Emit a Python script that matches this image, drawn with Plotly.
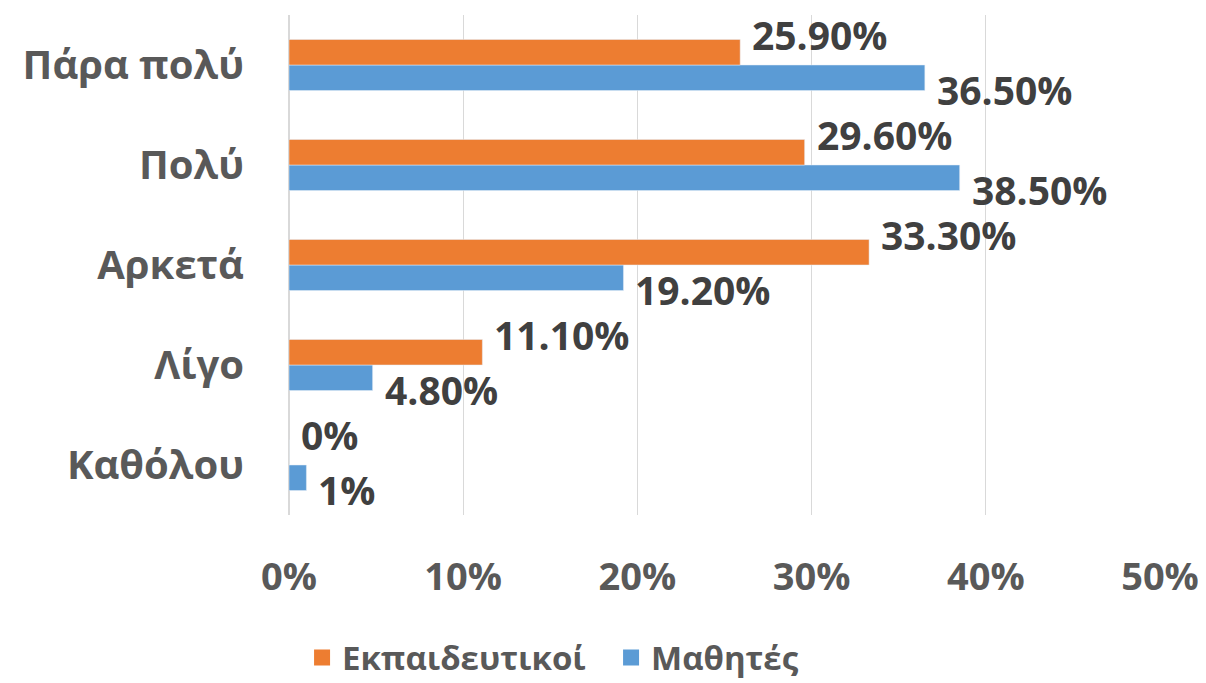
import plotly.graph_objects as go

categories = ["Πάρα πολύ", "Πολύ", "Αρκετά", "Λίγο", "Καθόλου"]
teachers = [25.9, 29.6, 33.3, 11.1, 0]
students = [36.5, 38.5, 19.2, 4.8, 1]

def fmt(v):
    return f"{v:.0f}%" if float(v).is_integer() else f"{v:.2f}%"

FONT = "Open Sans"
ORANGE = "#ED7D31"
BLUE = "#5B9BD5"

fig = go.Figure()
# blue first so it sits below orange inside each group
fig.add_trace(go.Bar(y=categories, x=students, orientation="h", name="Μαθητές",
                     marker=dict(color=BLUE), showlegend=False))
fig.add_trace(go.Bar(y=categories, x=teachers, orientation="h", name="Εκπαιδευτικοί",
                     marker=dict(color=ORANGE), showlegend=False))

# legend entries with bigger square swatches
fig.add_trace(go.Scatter(x=[None], y=[None], mode="markers", name="Εκπαιδευτικοί",
                         marker=dict(symbol="square", size=20, color=ORANGE)))
fig.add_trace(go.Scatter(x=[None], y=[None], mode="markers", name="Μαθητές",
                         marker=dict(symbol="square", size=20, color=BLUE)))

for cat, t, s in zip(categories, teachers, students):
    fig.add_annotation(x=t, y=cat, text=fmt(t), showarrow=False, xanchor="left",
                       xshift=10, yshift=31,
                       font=dict(family=FONT, size=39, color="#404040", weight="bold"))
    fig.add_annotation(x=s, y=cat, text=fmt(s), showarrow=False, xanchor="left",
                       xshift=10, yshift=-24,
                       font=dict(family=FONT, size=39, color="#404040", weight="bold"))

# page body has an 8px margin, so the figure is 8px smaller than the window
fig.update_layout(
    width=1198, height=675,
    margin=dict(l=281, r=46, t=7, b=168, autoexpand=False),
    barmode="group", bargap=0.49, bargroupgap=0,
    plot_bgcolor="white", paper_bgcolor="white",
    font=dict(family=FONT, size=40, color="#595959", weight="bold"),
    legend=dict(orientation="h", x=0.015, xanchor="left",
                y=-0.285, yanchor="middle", font=dict(size=33, color="#595959"),
                itemsizing="trace", entrywidth=264),
    xaxis=dict(range=[0, 50], dtick=10, ticksuffix="%", showgrid=True,
               gridcolor="#d9d9d9", gridwidth=1, zeroline=True, zerolinecolor="#d9d9d9",
               showline=False, ticklabelstandoff=36, automargin=False, fixedrange=True,
               tickfont=dict(size=38)),
    yaxis=dict(categoryorder="array", categoryarray=categories[::-1],
               range=[-0.5, len(categories) - 0.5],
               showgrid=False, showline=False, ticklabelstandoff=44, automargin=False,
               fixedrange=True),
)

fig.write_html("out.html")
